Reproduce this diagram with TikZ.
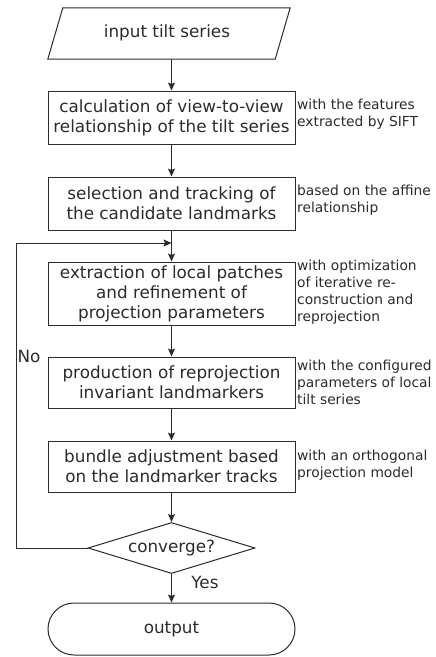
\documentclass[tikz,border=0pt]{standalone}
\usepackage{fontspec}
\setmainfont{DejaVu Sans}
\usetikzlibrary{shapes.geometric,shapes.misc,arrows.meta,calc}
\definecolor{ink}{HTML}{2B2B2B}
\tikzset{
  box/.style={draw=ink, line width=1pt, rectangle, minimum width=247pt, align=center, inner sep=0pt, text=ink, font=\fontsize{16.8}{20}\selectfont},
  note/.style={anchor=west, align=left, inner sep=0pt, text=ink, font=\fontsize{13.8}{17}\selectfont},
  arr/.style={draw=ink, line width=1pt, -{Stealth[length=8pt,width=7pt,inset=1.5pt]}},
  lbl/.style={text=ink, font=\fontsize{16.8}{20}\selectfont, inner sep=0pt}
}
\begin{document}
\begin{tikzpicture}[x=1pt,y=-1pt]
\useasboundingbox (0,0) rectangle (436,657);
% input
\node[minimum width=242pt, minimum height=51pt, inner sep=0pt] (in) at (169,33.5) {};
\draw[ink, line width=1pt] ($(in.north west)+(15,0)$) -- (in.north east) -- ($(in.south east)-(15,0)$) -- (in.south west) -- cycle;
\node[lbl] (intext) at (167,33) {input tilt series};
% boxes
\node[box, minimum height=53pt] (b2) at (171.5,117.5) {calculation of view-to-view\\relationship of the tilt series};
\node[box, minimum height=53pt] (b3) at (171.5,203.5) {selection and tracking of\\the candidate landmarks};
\node[box, minimum height=63pt] (b4) at (171.5,293.5) {extraction of local patches\\and refinement of\\projection parameters};
\node[box, minimum height=51pt] (b5) at (171.5,382.5) {production of reprojection\\invariant landmarkers};
\node[box, minimum height=51pt] (b6) at (171.5,466.5) {bundle adjustment based\\on the landmarker tracks};
\node[draw=ink, line width=1pt, diamond, aspect=3.27, minimum width=167pt, minimum height=51pt, inner sep=0pt, text=ink, font=\fontsize{16.8}{20}\selectfont] (dia) at (171.5,548) {converge?};
\node[draw=ink, line width=1pt, rounded rectangle, minimum width=247pt, minimum height=52pt, inner sep=0pt, text=ink, font=\fontsize{16.8}{20}\selectfont] (out) at (171.5,629) {output};
% notes
\node[note] (n2) at (297,114) {with the features\\extracted by SIFT};
\node[note] (n3) at (297,200) {based on the affine\\relationship};
\node[note] (n4) at (297,292.5) {with optimization\\of iterative re-\\construction and\\reprojection};
\node[note] (n5) at (297,382) {with the configured\\parameters of local\\tilt series};
\node[note] (n6) at (297,465.5) {with an orthogonal\\projection model};
% connectors
\coordinate (join) at (171.5,243);
\coordinate (corner) at (16,243);
\draw[arr] (in.south -| b2.north) -- (b2.north);
\draw[arr] (b2) -- (b3);
\draw[arr] (b3) -- (b4);
\draw[arr] (b4) -- (b5);
\draw[arr] (b5) -- (b6);
\draw[arr] (b6) -- (dia);
\draw[arr] (dia) -- (out);
\draw[arr] (dia.west) -| (corner) -- (join);
\node[lbl] (no) at (29,356) {No};
\node[lbl] (yes) at (205,582) {Yes};
\end{tikzpicture}
\end{document}
